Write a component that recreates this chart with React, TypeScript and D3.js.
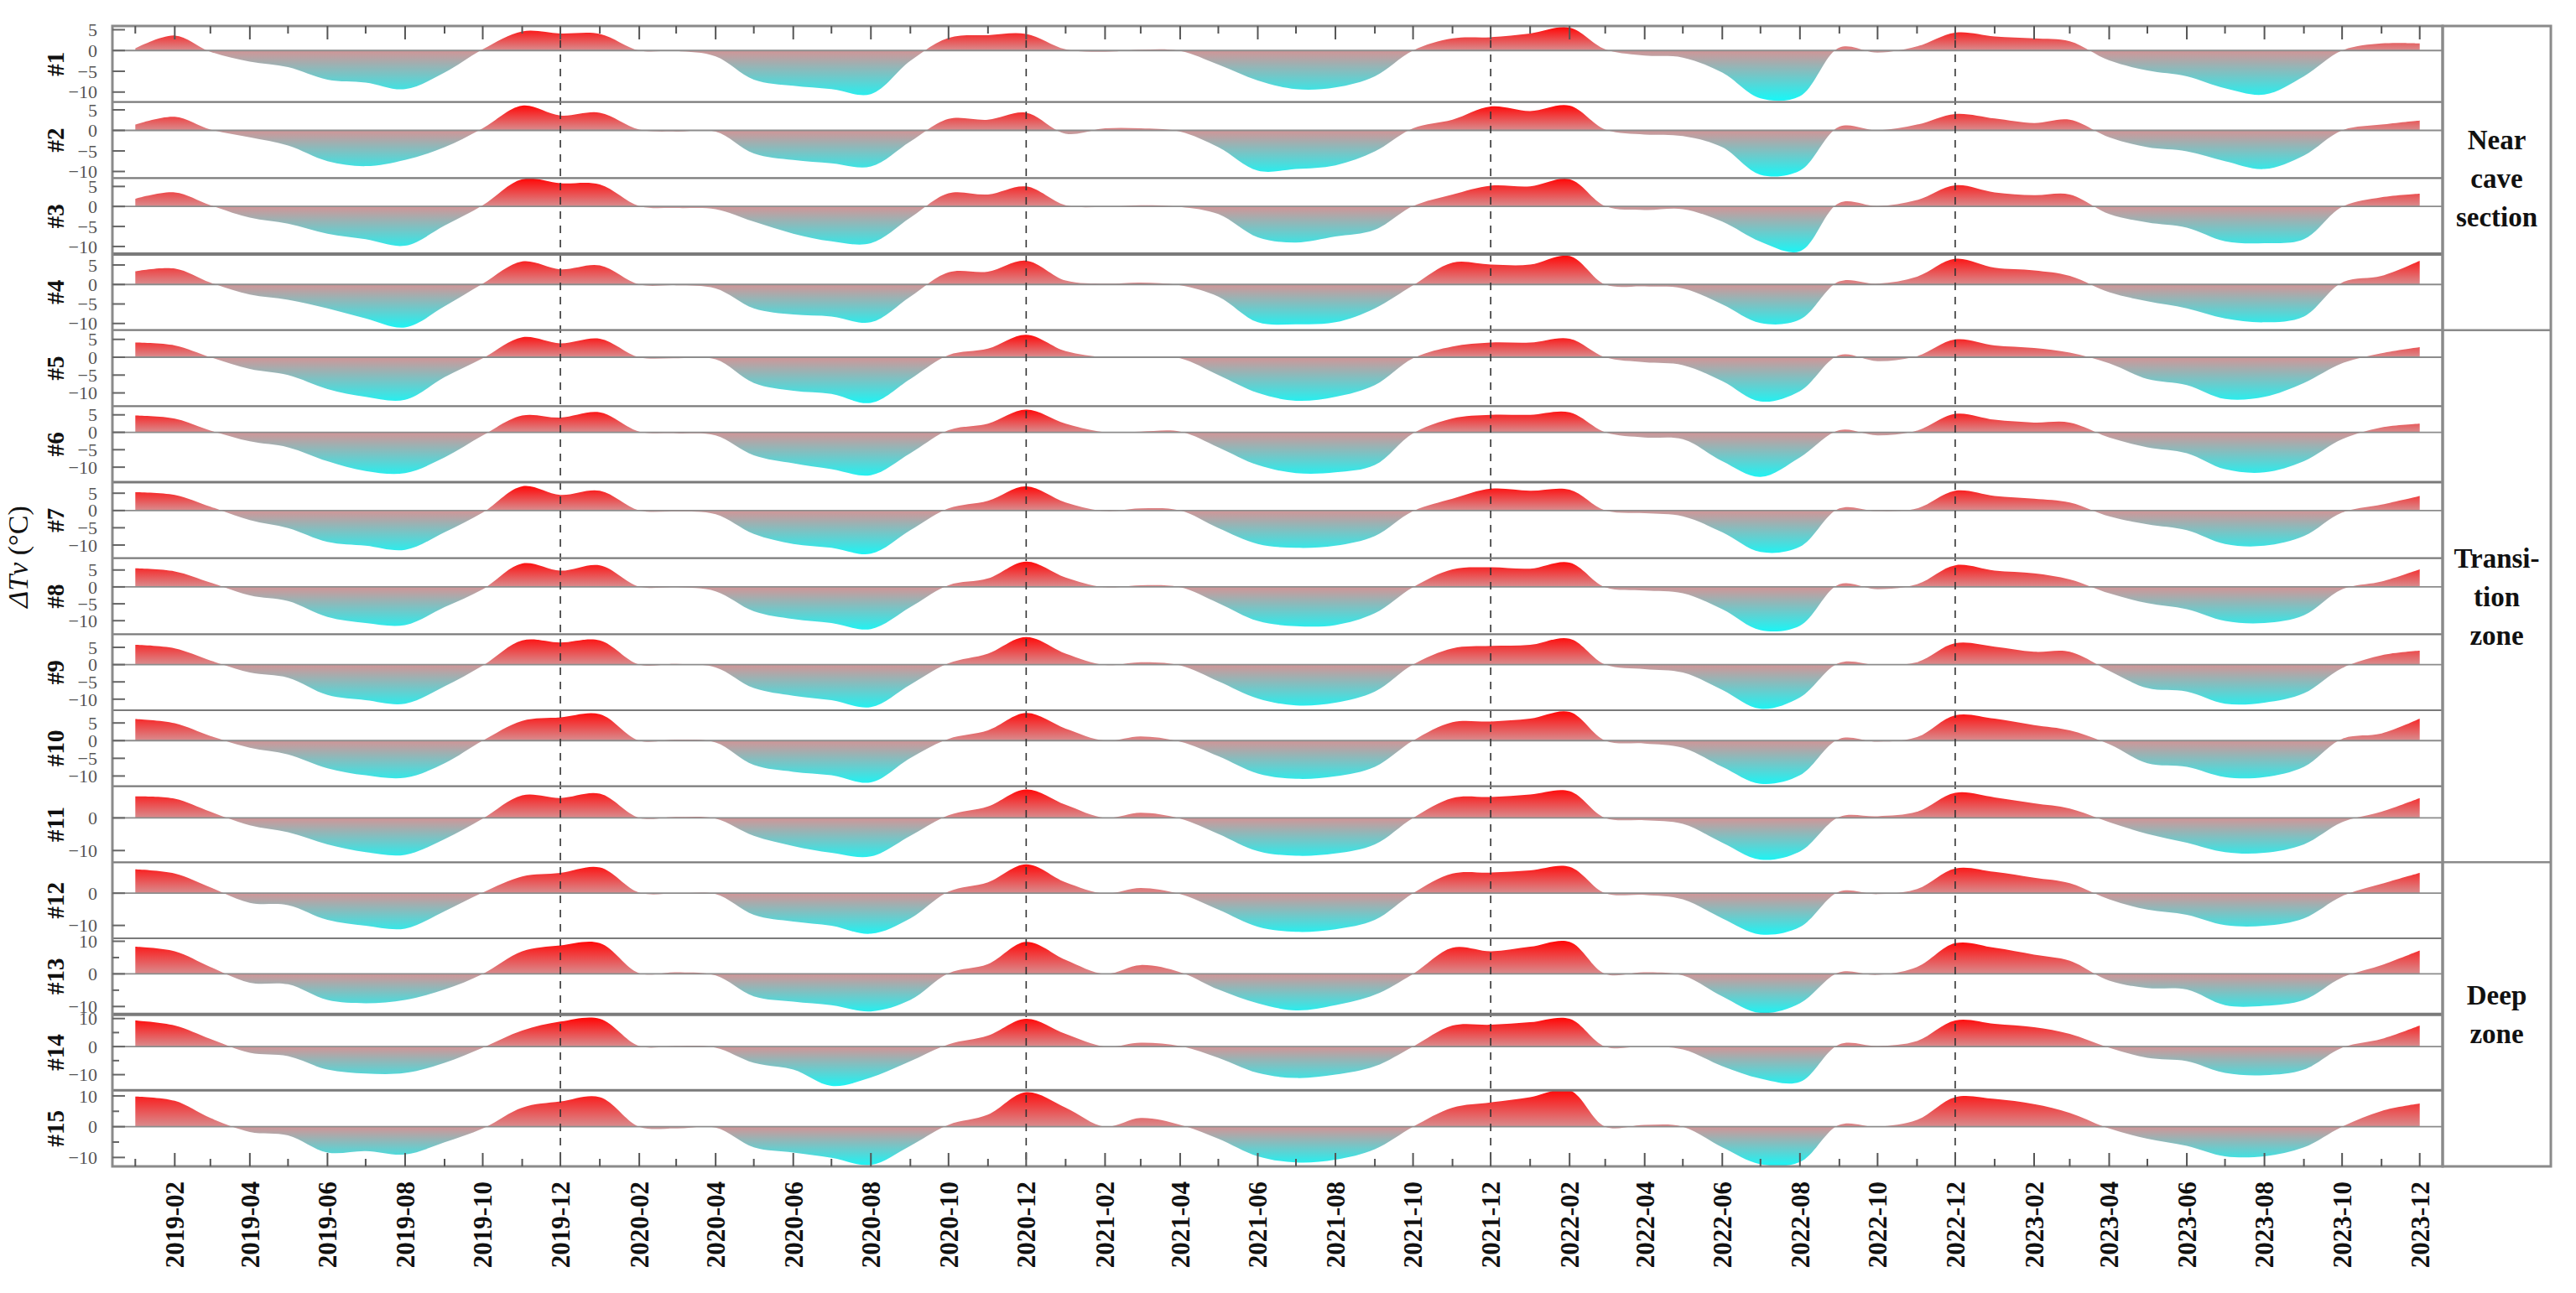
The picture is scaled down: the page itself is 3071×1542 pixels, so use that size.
import React from 'react';
import * as d3 from 'd3';

// ---------- data ----------
const months: Date[] = d3.timeMonth.range(new Date(2019, 0, 1), new Date(2024, 0, 1)); // 2019-01 .. 2023-12

const panelNames = ['#1', '#2', '#3', '#4', '#5', '#6', '#7', '#8', '#9', '#10', '#11', '#12', '#13', '#14', '#15'];

const s1 = [0.5, 3.6, -0.3, -2.7, -4.0, -7.0, -7.7, -9.3, -5.3, 0.3, 4.6, 4.1, 4.0, 0.0, -0.1, -1.4, -7.0, -8.5, -9.3, -10.5, -2.5, 3.0, 3.7, 4.0, 0.3, -0.3, 0.2, -0.1, -3.4, -7.2, -9.3, -8.9, -6.2, 0.0, 2.9, 3.2, 4.1, 5.5, 0.3, -1.2, -1.7, -5.3, -11.5, -11.0, 0.7, -0.5, 1.0, 4.3, 3.4, 2.9, 2.2, -2.4, -4.8, -6.2, -9.1, -10.6, -6.2, 0.0, 1.7, 1.7];
const s2 = [1.4, 3.3, 0.2, -1.7, -3.7, -7.5, -8.7, -7.2, -4.1, 0.5, 6.0, 3.6, 4.3, 0.2, -0.3, -0.3, -5.6, -7.2, -8.0, -8.8, -2.7, 2.8, 2.6, 4.3, -0.8, 0.5, 0.5, -0.3, -4.1, -9.8, -9.4, -8.5, -5.1, 0.5, 2.6, 5.8, 4.7, 6.0, 0.2, -1.0, -1.4, -4.1, -10.8, -9.8, 0.9, 0.0, 1.4, 4.0, 2.9, 1.8, 2.6, -1.7, -4.1, -5.1, -7.5, -9.4, -6.1, 0.0, 1.4, 2.4];
const s3 = [1.9, 3.5, 0.3, -2.8, -4.3, -6.8, -8.2, -9.8, -4.8, 0.3, 6.8, 5.8, 5.5, 0.1, -0.4, -0.7, -3.8, -6.8, -8.7, -9.2, -2.8, 3.3, 3.0, 5.0, 0.3, -0.1, 0.3, -0.1, -1.9, -7.7, -9.0, -7.5, -5.8, 0.1, 3.0, 5.2, 5.0, 6.8, 0.1, -0.9, -0.7, -3.8, -8.8, -11.2, 0.9, 0.1, 1.6, 5.3, 3.5, 2.8, 3.0, -1.9, -4.0, -5.3, -8.7, -9.2, -8.2, -0.1, 2.3, 3.2];
const s4 = [3.4, 4.1, 0.5, -2.6, -3.9, -6.1, -8.7, -11.0, -5.6, 0.2, 5.9, 3.9, 4.9, 0.0, -0.2, -1.0, -6.1, -7.7, -8.2, -9.7, -3.1, 3.1, 3.3, 6.1, 1.0, 0.2, 0.5, -0.2, -3.1, -9.7, -10.2, -9.7, -6.1, -0.2, 5.6, 5.1, 5.1, 7.3, 0.0, -0.5, -1.0, -5.1, -9.9, -9.0, 0.8, 0.2, 2.0, 6.6, 4.3, 3.6, 2.2, -2.0, -4.3, -6.1, -8.7, -9.7, -8.2, 0.5, 2.2, 6.1];
const s5 = [4.1, 3.3, 0.0, -3.3, -5.0, -8.9, -11.1, -11.9, -5.6, -0.3, 5.6, 3.9, 5.2, 0.0, -0.3, -0.6, -7.2, -9.4, -10.3, -12.8, -6.1, 0.6, 2.4, 6.3, 1.7, 0.0, 0.2, -0.3, -5.0, -10.0, -12.2, -11.1, -7.8, -0.3, 3.0, 4.1, 4.1, 5.2, 0.0, -1.4, -2.2, -6.7, -12.4, -9.5, 0.6, -1.1, 0.3, 5.0, 3.3, 2.6, 1.3, -1.7, -6.1, -7.8, -11.7, -11.1, -7.2, -1.7, 1.1, 2.8];
const s6 = [4.8, 3.9, 0.5, -2.6, -4.3, -8.3, -11.1, -11.7, -7.2, -0.9, 4.8, 4.2, 5.7, 0.2, -0.3, -0.9, -6.6, -8.9, -10.6, -12.3, -6.0, 0.6, 2.5, 6.5, 2.5, 0.0, 0.2, 0.2, -4.3, -9.4, -11.7, -11.5, -9.4, -0.3, 4.0, 5.0, 5.0, 5.7, 0.0, -1.5, -2.0, -8.3, -12.8, -7.2, 0.6, -0.9, 0.5, 5.3, 3.6, 2.8, 2.8, -1.5, -4.3, -6.0, -10.6, -11.5, -8.3, -2.0, 1.4, 2.5];
const s7 = [5.3, 4.5, 1.1, -2.8, -5.1, -9.1, -10.2, -11.4, -6.3, -0.6, 7.0, 4.5, 5.7, 0.0, -0.3, -1.1, -6.8, -9.7, -10.8, -12.5, -5.7, 0.6, 2.8, 7.0, 2.3, -0.2, 0.6, 0.0, -5.1, -9.7, -10.8, -10.2, -7.4, -0.2, 3.4, 6.3, 5.7, 6.0, 0.0, -0.8, -1.7, -6.3, -12.0, -10.5, 0.6, -0.2, 0.6, 5.7, 4.2, 3.4, 2.3, -1.7, -4.0, -5.7, -9.7, -10.2, -7.4, -0.6, 1.7, 4.2];
const s8 = [5.5, 4.6, 1.3, -2.5, -4.2, -8.9, -10.7, -11.3, -6.0, -0.7, 6.9, 4.8, 6.4, 0.1, -0.1, -1.3, -7.2, -9.5, -10.7, -12.5, -6.0, 0.5, 2.5, 7.5, 2.8, -0.1, 0.5, -0.1, -4.8, -10.1, -11.6, -11.3, -7.8, -0.1, 5.2, 5.8, 5.4, 7.2, -0.1, -1.1, -1.9, -6.6, -12.8, -11.5, 0.8, -0.7, 0.8, 6.4, 4.8, 4.0, 2.2, -1.9, -4.8, -6.6, -10.1, -10.7, -8.4, -0.7, 1.6, 5.2];
const s9 = [5.7, 4.7, 1.2, -2.3, -3.8, -8.8, -10.3, -11.3, -6.3, -0.3, 7.0, 6.4, 7.0, 0.0, 0.2, -0.8, -6.8, -9.0, -10.3, -12.3, -5.8, 0.4, 3.2, 8.0, 3.2, -0.1, 0.7, -0.2, -4.8, -9.8, -11.8, -11.0, -7.8, 0.0, 4.7, 5.4, 5.7, 7.5, 0.0, -1.3, -2.3, -7.3, -12.8, -9.5, 0.5, -0.1, 0.7, 6.2, 5.2, 3.7, 3.7, -1.8, -6.8, -7.8, -11.3, -11.0, -8.3, -1.0, 2.7, 4.0];
const s10 = [6.1, 4.9, 1.3, -2.0, -3.9, -7.8, -9.8, -10.5, -6.4, 0.0, 5.6, 6.6, 7.5, 0.0, 0.3, -0.5, -6.9, -8.8, -9.8, -11.8, -4.9, 0.5, 2.9, 7.8, 3.4, 0.0, 1.2, -0.3, -4.4, -9.3, -10.8, -10.1, -7.4, 0.0, 5.2, 5.4, 6.2, 8.1, 0.0, -0.8, -2.0, -7.4, -12.2, -9.8, 0.5, -0.3, 1.0, 7.2, 6.2, 4.4, 2.9, -1.0, -6.4, -7.4, -10.3, -10.3, -7.4, 0.5, 2.0, 6.2];
const s11 = [6.6, 5.9, 1.9, -2.3, -4.4, -8.1, -10.5, -11.3, -6.5, -0.2, 6.9, 6.1, 7.4, 0.0, 0.3, -0.2, -5.5, -8.6, -10.7, -11.8, -5.5, 0.8, 3.5, 8.7, 4.0, 0.0, 1.6, -0.2, -4.9, -10.2, -11.6, -10.9, -8.1, 0.0, 6.1, 6.4, 7.2, 8.2, 0.0, -0.7, -1.8, -7.6, -12.8, -10.3, 0.3, 0.5, 1.9, 7.7, 6.3, 4.5, 2.9, -1.3, -4.9, -7.6, -10.5, -10.7, -8.1, -1.3, 1.9, 6.1];
const s12 = [7.4, 6.1, 1.8, -3.0, -3.7, -8.3, -10.1, -11.0, -5.6, 0.2, 5.2, 6.3, 8.0, 0.2, -0.1, -0.3, -6.7, -8.8, -10.1, -12.6, -7.8, 0.5, 3.4, 9.0, 3.4, -0.1, 1.6, -0.3, -5.1, -10.4, -12.0, -11.2, -8.3, 0.0, 6.1, 6.4, 7.1, 8.2, 0.0, -0.5, -1.9, -7.8, -12.8, -10.5, 0.5, -0.3, 1.3, 7.7, 6.6, 4.8, 3.1, -1.9, -5.1, -6.7, -9.9, -10.1, -7.8, -0.9, 2.9, 6.3];
const s13 = [8.3, 6.9, 2.1, -2.7, -3.2, -8.0, -9.0, -8.0, -4.8, 0.0, 6.9, 8.7, 9.4, 0.2, 0.5, -0.5, -6.9, -8.5, -9.6, -11.5, -8.0, 0.2, 3.0, 9.8, 4.3, 0.0, 2.7, 0.5, -4.8, -9.0, -11.2, -9.6, -6.4, 0.0, 8.0, 6.9, 8.3, 9.8, 0.0, 0.5, -0.5, -6.9, -12.0, -9.0, 0.5, -0.3, 2.1, 9.4, 8.0, 5.9, 4.0, -2.1, -4.3, -4.8, -9.6, -9.8, -8.0, -1.1, 2.7, 7.2];
const s14 = [9.3, 7.5, 2.7, -2.2, -3.4, -8.2, -9.6, -9.4, -5.8, -0.4, 5.7, 8.9, 9.9, 0.2, 0.2, -0.4, -5.8, -8.2, -14.0, -11.0, -5.2, 0.8, 3.9, 9.9, 4.5, 0.0, 1.4, 0.2, -4.0, -9.4, -11.2, -10.0, -7.0, 0.0, 7.5, 7.8, 8.7, 9.9, 0.0, 0.0, -1.0, -7.0, -11.4, -12.6, 0.8, 0.2, 2.0, 9.3, 8.1, 6.9, 4.5, -0.4, -4.0, -5.2, -9.4, -10.2, -8.2, -0.4, 2.7, 7.5];
const s15 = [9.8, 8.4, 2.8, -1.7, -2.8, -8.4, -7.9, -9.0, -5.1, -0.6, 6.2, 8.2, 9.6, 0.0, -0.6, -0.3, -6.7, -8.4, -10.1, -12.4, -6.2, 0.6, 3.9, 11.2, 6.2, 0.0, 2.8, 0.6, -3.9, -9.6, -11.6, -10.7, -7.3, 0.0, 6.2, 7.9, 9.6, 11.8, 0.0, 0.6, 0.0, -6.7, -12.2, -11.5, 0.6, 0.0, 2.2, 9.6, 9.0, 7.3, 4.5, -0.6, -3.9, -6.2, -9.6, -9.6, -6.7, 0.0, 5.1, 7.5];

const series = [s1, s2, s3, s4, s5, s6, s7, s8, s9, s10, s11, s12, s13, s14, s15];

// y-axis ranges of each panel
const yMin = [-12.4, -11.6, -11.9, -11.7, -13.7, -14.3, -13.8, -14.0, -13.2, -12.9, -13.6, -14.0, -12.4, -15.6, -12.9];
const yMax = [5.9, 6.9, 7.1, 7.8, 7.6, 7.5, 8.2, 8.5, 8.8, 8.6, 9.7, 9.6, 10.9, 11.5, 11.8];

const ticksSmall = [5, 0, -5, -10];
const ticksTwo = [0, -10];
const ticksWide = [10, 0, -10];
const majorTicks = [ticksSmall, ticksSmall, ticksSmall, ticksSmall, ticksSmall, ticksSmall, ticksSmall, ticksSmall, ticksSmall, ticksSmall, ticksTwo, ticksTwo, ticksWide, ticksWide, ticksWide];
const minorTicks = [[], [], [], [], [], [], [], [], [], [], [], [], [5, -5], [5, -5], [5, -5]];

const dividerDates = [new Date(2019, 11, 1), new Date(2020, 11, 1), new Date(2021, 11, 1), new Date(2022, 11, 1)];

const zones = [
  { lines: ['Near', 'cave', 'section'], from: 0, to: 4 },
  { lines: ['Transi-', 'tion', 'zone'], from: 4, to: 11 },
  { lines: ['Deep', 'zone'], from: 11, to: 15 },
];

const yTitle = 'ΔTv (°C)';

// ---------- layout ----------
const W = 3071;
const H = 1542;
const L = 134;
const R = 2912;
const T = 31;
const B = 1391;
const BOX_R = 3041;
const FONT = "'Liberation Serif', 'Times New Roman', serif";

export default function App() {
  const x = d3.scaleTime().domain([new Date(2018, 11, 14), new Date(2023, 11, 19)]).range([L, R]);
  const nP = series.length;
  const pH = (B - T) / nP;
  const fmt = d3.timeFormat('%Y-%m');
  const labelMonths = months.filter((d) => d.getMonth() % 2 === 1);
  const minorMonths = months.filter((d) => d.getMonth() % 2 === 0);

  const panels = series.map((vals, i) => {
    const top = T + i * pH;
    const bot = top + pH;
    const y = d3.scaleLinear().domain([yMin[i], yMax[i]]).range([bot, top]);
    const area = d3
      .area<number>()
      .x((_, j) => x(months[j]))
      .y0(y(0))
      .y1((d) => y(d))
      .curve(d3.curveCatmullRom.alpha(0.5));
    const path = area(vals) || '';
    const vMax = d3.max(vals) as number;
    const vMin = d3.min(vals) as number;
    return { i, top, bot, y, path, vMax, vMin };
  });

  const lineW = (k: number) => (k === 3 || k === 13 ? 4 : k === 6 || k === 14 ? 3 : 2.2);

  return (
    <svg width={W} height={H} style={{ position: 'absolute', left: 0, top: 0, background: '#fff' }} fontFamily={FONT}>
      <defs>
        {panels.map((p) => (
          <React.Fragment key={p.i}>
            <linearGradient id={`pos${p.i}`} gradientUnits="userSpaceOnUse" x1={0} x2={0} y1={p.y(p.vMax)} y2={p.y(0)}>
              <stop offset="0" stopColor="#ff0a0a" />
              <stop offset="1" stopColor="#d98c8e" />
            </linearGradient>
            <linearGradient id={`neg${p.i}`} gradientUnits="userSpaceOnUse" x1={0} x2={0} y1={p.y(0)} y2={p.y(p.vMin)}>
              <stop offset="0" stopColor="#d29597" />
              <stop offset="1" stopColor="#1ff3f3" />
            </linearGradient>
            <clipPath id={`cpos${p.i}`}>
              <rect x={L} y={p.top} width={R - L} height={p.y(0) - p.top} />
            </clipPath>
            <clipPath id={`cneg${p.i}`}>
              <rect x={L} y={p.y(0)} width={R - L} height={p.bot - p.y(0)} />
            </clipPath>
          </React.Fragment>
        ))}
      </defs>

      {/* areas */}
      {panels.map((p) => (
        <g key={`a${p.i}`}>
          <path d={p.path} fill={`url(#pos${p.i})`} clipPath={`url(#cpos${p.i})`} />
          <path d={p.path} fill={`url(#neg${p.i})`} clipPath={`url(#cneg${p.i})`} />
          <line x1={L} x2={R} y1={p.y(0)} y2={p.y(0)} stroke="#8c8c8c" strokeWidth={1.8} />
        </g>
      ))}

      {/* dashed year dividers */}
      {dividerDates.map((d, k) => (
        <line key={`dv${k}`} x1={x(d)} x2={x(d)} y1={T} y2={B} stroke="#333" strokeWidth={1.6} strokeDasharray="9,8" />
      ))}

      {/* panel borders */}
      {panels.slice(1).map((p) => (
        <line key={`pb${p.i}`} x1={L} x2={R} y1={p.top} y2={p.top} stroke="#7a7a7a" strokeWidth={lineW(p.i)} />
      ))}
      <rect x={L} y={T} width={R - L} height={B - T} fill="none" stroke="#8a8a8a" strokeWidth={3} />

      {/* y ticks and labels */}
      {panels.map((p) => (
        <g key={`yt${p.i}`}>
          {majorTicks[p.i].map((t) => (
            <g key={`m${t}`}>
              <line x1={L} x2={L + 15} y1={p.y(t)} y2={p.y(t)} stroke="#666" strokeWidth={2} />
              <text x={116} y={p.y(t)} dy="0.35em" textAnchor="end" fontSize={22} fill="#555">
                {t < 0 ? `\u2212${Math.abs(t)}` : t}
              </text>
            </g>
          ))}
          {minorTicks[p.i].map((t) => (
            <line key={`n${t}`} x1={L} x2={L + 8} y1={p.y(t)} y2={p.y(t)} stroke="#666" strokeWidth={2} />
          ))}
          <text
            transform={`translate(66,${(p.top + p.bot) / 2}) rotate(-90)`}
            dy="0.35em"
            textAnchor="middle"
            fontSize={29}
            fontWeight="bold"
            fill="#111"
          >
            {panelNames[p.i]}
          </text>
        </g>
      ))}

      {/* x ticks: top and bottom */}
      {labelMonths.map((d, k) => (
        <g key={`xl${k}`}>
          <line x1={x(d)} x2={x(d)} y1={T} y2={T + 16} stroke="#555" strokeWidth={2} />
          <line x1={x(d)} x2={x(d)} y1={B} y2={B - 16} stroke="#555" strokeWidth={2} />
          <text
            transform={`translate(${x(d)},1409) rotate(-90)`}
            dy="0.35em"
            textAnchor="end"
            fontSize={31}
            fontWeight="bold"
            fill="#111"
          >
            {fmt(d)}
          </text>
        </g>
      ))}
      {minorMonths.map((d, k) => (
        <g key={`xm${k}`}>
          <line x1={x(d)} x2={x(d)} y1={T} y2={T + 9} stroke="#555" strokeWidth={2} />
          <line x1={x(d)} x2={x(d)} y1={B} y2={B - 9} stroke="#555" strokeWidth={2} />
        </g>
      ))}

      {/* y title */}
      <text transform="translate(21,664) rotate(-90)" dy="0.35em" textAnchor="middle" fontSize={34} fill="#111">
        <tspan fontStyle="italic">{yTitle.slice(0, 3)}</tspan>
        <tspan>{yTitle.slice(3)}</tspan>
      </text>

      {/* right zone box */}
      <rect x={R} y={T} width={BOX_R - R} height={B - T} fill="none" stroke="#8a8a8a" strokeWidth={3} />
      {zones.map((z, k) => {
        const y0 = T + z.from * pH;
        const y1 = T + z.to * pH;
        const cy = (y0 + y1) / 2;
        const lh = 46;
        return (
          <g key={`z${k}`}>
            {k > 0 && <line x1={R} x2={BOX_R} y1={y0} y2={y0} stroke="#8a8a8a" strokeWidth={2.5} />}
            {z.lines.map((ln, j) => (
              <text
                key={j}
                x={(R + BOX_R) / 2}
                y={cy + (j - (z.lines.length - 1) / 2) * lh}
                dy="0.35em"
                textAnchor="middle"
                fontSize={33}
                fontWeight="bold"
                fill="#111"
              >
                {ln}
              </text>
            ))}
          </g>
        );
      })}
    </svg>
  );
}
